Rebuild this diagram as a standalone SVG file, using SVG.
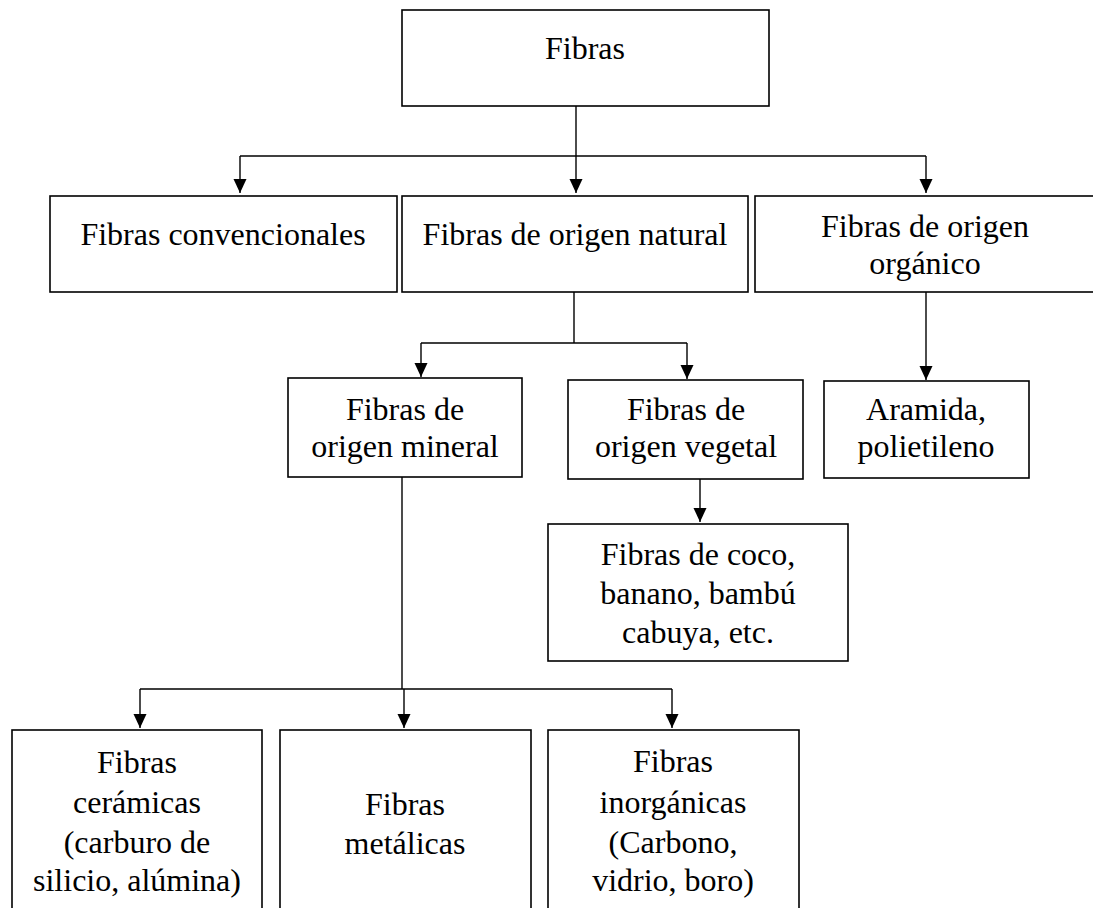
<svg xmlns="http://www.w3.org/2000/svg" width="1093" height="908" viewBox="0 0 1093 908">
<style>
.box{fill:#fff;stroke:#000;stroke-width:1.6}
.ln{fill:none;stroke:#000;stroke-width:1.4}
text{font-family:"Liberation Serif","Times New Roman",serif;font-size:32px;fill:#000;text-anchor:middle}
</style>
<defs>
<marker id="ah" markerUnits="userSpaceOnUse" markerWidth="15" markerHeight="14" refX="14" refY="6.5" orient="auto">
<path d="M0,0 L14,6.5 L0,13 z" fill="#000"/>
</marker>
</defs>
<rect width="1093" height="908" fill="#fff"/>
<g id="connectors">
<path class="ln" d="M576,106 V156"/>
<path class="ln" d="M240,156 H926"/>
<path class="ln" d="M240,156 V193" marker-end="url(#ah)"/>
<path class="ln" d="M576,156 V193" marker-end="url(#ah)"/>
<path class="ln" d="M926,156 V193" marker-end="url(#ah)"/>
<path class="ln" d="M574,292 V343 M421,343 H687"/>
<path class="ln" d="M421,343 V377" marker-end="url(#ah)"/>
<path class="ln" d="M687,343 V379" marker-end="url(#ah)"/>
<path class="ln" d="M926,292 V380" marker-end="url(#ah)"/>
<path class="ln" d="M700,479 V522" marker-end="url(#ah)"/>
<path class="ln" d="M402,477 V689 M140,689 H672"/>
<path class="ln" d="M140,689 V728" marker-end="url(#ah)"/>
<path class="ln" d="M404,689 V728" marker-end="url(#ah)"/>
<path class="ln" d="M672,689 V728" marker-end="url(#ah)"/>
</g>
<g id="n-fibras"><rect class="box" x="402" y="10" width="367" height="96"/><text x="585" y="59">Fibras</text></g>
<g id="n-convencionales"><rect class="box" x="50" y="196" width="347" height="96"/><text x="223" y="245">Fibras convencionales</text></g>
<g id="n-natural"><rect class="box" x="402" y="196" width="346" height="96"/><text x="575" y="245">Fibras de origen natural</text></g>
<g id="n-organico"><rect class="box" x="755" y="196" width="345" height="96"/><text x="925" y="237">Fibras de origen</text><text x="925" y="274">orgánico</text></g>
<g id="n-mineral"><rect class="box" x="288" y="378" width="234" height="99"/><text x="405" y="420">Fibras de</text><text x="405" y="457">origen mineral</text></g>
<g id="n-vegetal"><rect class="box" x="568" y="380" width="235" height="99"/><text x="686" y="420">Fibras de</text><text x="686" y="457">origen vegetal</text></g>
<g id="n-aramida"><rect class="box" x="824" y="381" width="205" height="97"/><text x="926" y="420">Aramida,</text><text x="926" y="457">polietileno</text></g>
<g id="n-coco"><rect class="box" x="548" y="524" width="300" height="137"/><text x="698" y="565">Fibras de coco,</text><text x="698" y="604">banano, bambú</text><text x="698" y="643">cabuya, etc.</text></g>
<g id="n-ceramicas"><rect class="box" x="12" y="730" width="250" height="190"/><text x="137" y="773">Fibras</text><text x="137" y="813">cerámicas</text><text x="137" y="853">(carburo de</text><text x="137" y="891">silicio, alúmina)</text></g>
<g id="n-metalicas"><rect class="box" x="280" y="730" width="251" height="190"/><text x="405" y="815">Fibras</text><text x="405" y="854">metálicas</text></g>
<g id="n-inorganicas"><rect class="box" x="548" y="730" width="251" height="190"/><text x="673" y="772">Fibras</text><text x="673" y="813">inorgánicas</text><text x="673" y="853">(Carbono,</text><text x="673" y="891">vidrio, boro)</text></g>
</svg>
